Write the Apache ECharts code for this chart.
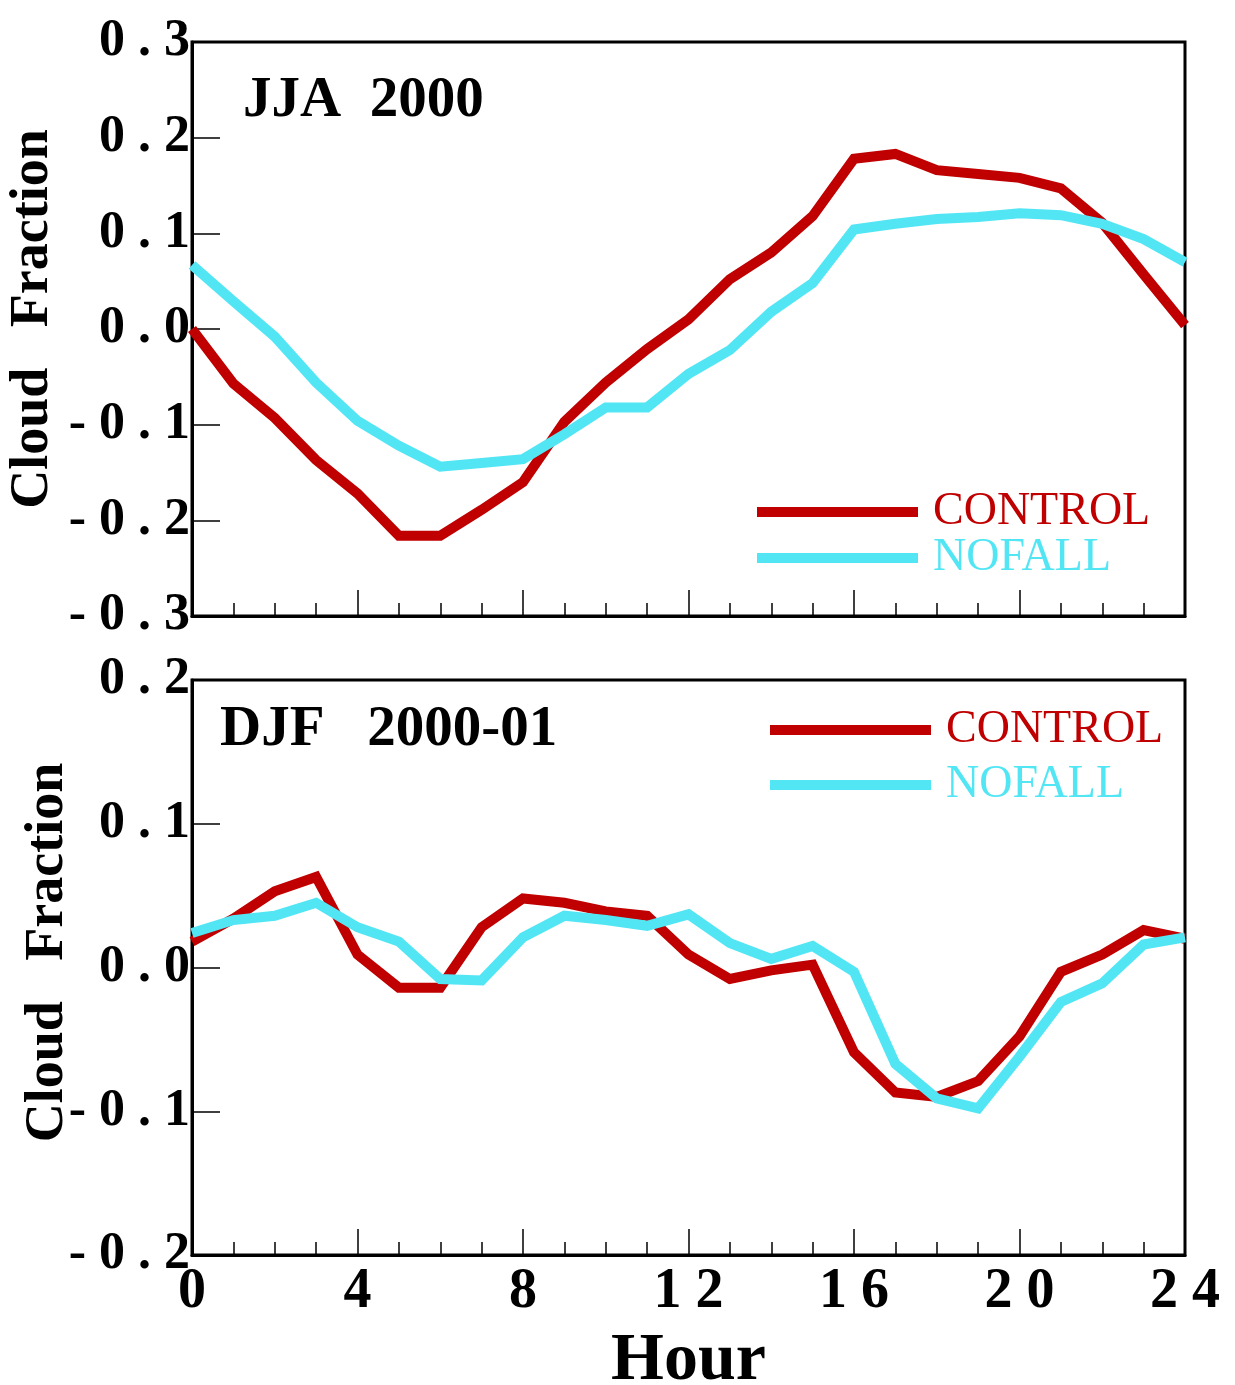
<!DOCTYPE html>
<html>
<head>
<meta charset="utf-8">
<script src="https://cdn.jsdelivr.net/npm/echarts@6/dist/echarts.min.js"></script>
<style>html,body{margin:0;padding:0;background:#fff}#c{width:1235px;height:1385px}</style>
</head>
<body>
<div id="c"></div>
<script>
const hours = [0,1,2,3,4,5,6,7,8,9,10,11,12,13,14,15,16,17,18,19,20,21,22,23,24];
const jjaControl = [0.0,-0.057,-0.093,-0.137,-0.172,-0.216,-0.216,-0.189,-0.160,-0.097,-0.056,-0.021,0.010,0.052,0.080,0.118,0.178,0.183,0.166,0.162,0.158,0.147,0.111,0.057,0.004];
const jjaNofall = [0.067,0.029,-0.008,-0.056,-0.096,-0.122,-0.144,-0.140,-0.136,-0.110,-0.082,-0.082,-0.047,-0.022,0.018,0.048,0.104,0.110,0.115,0.117,0.121,0.119,0.110,0.094,0.070];
const djfControl = [0.018,0.034,0.053,0.063,0.009,-0.014,-0.014,0.028,0.048,0.045,0.039,0.036,0.009,-0.008,-0.002,0.002,-0.059,-0.087,-0.090,-0.079,-0.048,-0.003,0.009,0.026,0.020];
const djfNofall = [0.024,0.033,0.036,0.045,0.028,0.018,-0.008,-0.009,0.021,0.036,0.033,0.029,0.037,0.017,0.006,0.015,-0.003,-0.067,-0.091,-0.098,-0.062,-0.024,-0.011,0.016,0.021];
const panelTitles = ['JJA  2000', 'DJF   2000-01'];
const seriesNames = ['CONTROL', 'NOFALL'];
const yAxisTitle = 'Cloud   Fraction';
const xAxisTitle = 'Hour';

const RED = '#c00000', CYAN = '#52e6f5';
const FONT = 'Liberation Serif';
const spaced = s => s.split('').join(' ');
const pairs = arr => hours.map((h, i) => [h, arr[i]]);

function xAxis(gi, showLabels) {
  return {
    type: 'value', gridIndex: gi, min: 0, max: 24, interval: 4,
    axisLine: {show: true, onZero: false, lineStyle: {color: '#000', width: 3}},
    axisTick: {show: true, inside: true, length: 26, lineStyle: {color: '#000', width: 1.5}},
    minorTick: {show: true, splitNumber: 4, length: 13, lineStyle: {color: '#000', width: 1.5}},
    splitLine: {show: false}, minorSplitLine: {show: false},
    axisLabel: {show: showLabels, margin: 10, color: '#000', fontFamily: FONT, fontWeight: 'bold', fontSize: 56,
      formatter: v => spaced(String(v))},
    name: showLabels ? xAxisTitle : '', nameLocation: 'middle', nameGap: 72, nameMoveOverlap: false,
    nameTextStyle: {color: '#000', fontFamily: FONT, fontWeight: 'bold', fontSize: 68}
  };
}
function yAxis(gi, lim, gap, shift) {
  return {
    type: 'value', gridIndex: gi, min: -lim, max: lim, interval: 0.1,
    axisLine: {show: true, onZero: false, lineStyle: {color: '#000', width: 3}},
    axisTick: {show: true, inside: true, length: 28, lineStyle: {color: '#000', width: 1.5}},
    splitLine: {show: false},
    axisLabel: {margin: 2, color: '#000', fontFamily: FONT, fontWeight: 'bold', fontSize: 52,
      padding: [0, 0, 14, 0],
      formatter: v => spaced((Math.round(v * 10) / 10).toFixed(1))},
    name: yAxisTitle, nameLocation: 'middle', nameRotate: 90, nameGap: gap, nameMoveOverlap: false,
    nameTextStyle: {color: '#000', fontFamily: FONT, fontWeight: 'bold', fontSize: 54, padding: [0, 0, 0, shift]}
  };
}
function line(name, gi, data, color) {
  return {name, type: 'line', xAxisIndex: gi, yAxisIndex: gi, data: pairs(data),
    showSymbol: false, symbol: 'none', animation: false, color,
    lineStyle: {color, width: 10, cap: 'butt', join: 'miter'}};
}
function legend(left, top, gap) {
  return {orient: 'vertical', left, top, padding: 0, itemGap: gap, icon: 'rect',
    itemWidth: 161, itemHeight: 10, selectedMode: false,
    textStyle: {fontFamily: FONT, fontSize: 46, lineHeight: 44, padding: [0, 0, 0, 10]},
    data: [{name: seriesNames[0], textStyle: {color: RED}}, {name: seriesNames[1], textStyle: {color: CYAN}}]};
}

const chart = echarts.init(document.getElementById('c'), null, {renderer: 'canvas'});
chart.setOption({
  animation: false,
  backgroundColor: '#fff',
  grid: [
    {left: 192, top: 42, width: 993, height: 574, show: true, borderColor: '#000', borderWidth: 3, backgroundColor: 'transparent', containLabel: false, outerBoundsMode: 'none'},
    {left: 192, top: 680, width: 993, height: 575, show: true, borderColor: '#000', borderWidth: 3, backgroundColor: 'transparent', containLabel: false, outerBoundsMode: 'none'}
  ],
  title: [
    {text: panelTitles[0], left: 243, top: 73, padding: 0, textStyle: {fontFamily: FONT, fontWeight: 'bold', fontSize: 57, lineHeight: 57, color: '#000'}},
    {text: panelTitles[1], left: 220, top: 702, padding: 0, textStyle: {fontFamily: FONT, fontWeight: 'bold', fontSize: 57, lineHeight: 57, color: '#000'}}
  ],
  legend: [legend(757, 489, 0), legend(770, 707, 9)],
  xAxis: [xAxis(0, false), xAxis(1, true)],
  yAxis: [yAxis(0, 0.3, 132, 20), yAxis(1, 0.2, 117, 30)],
  series: [
    line(seriesNames[0], 0, jjaControl, RED),
    line(seriesNames[1], 0, jjaNofall, CYAN),
    line(seriesNames[0], 1, djfControl, RED),
    line(seriesNames[1], 1, djfNofall, CYAN)
  ]
});
</script>
</body>
</html>
